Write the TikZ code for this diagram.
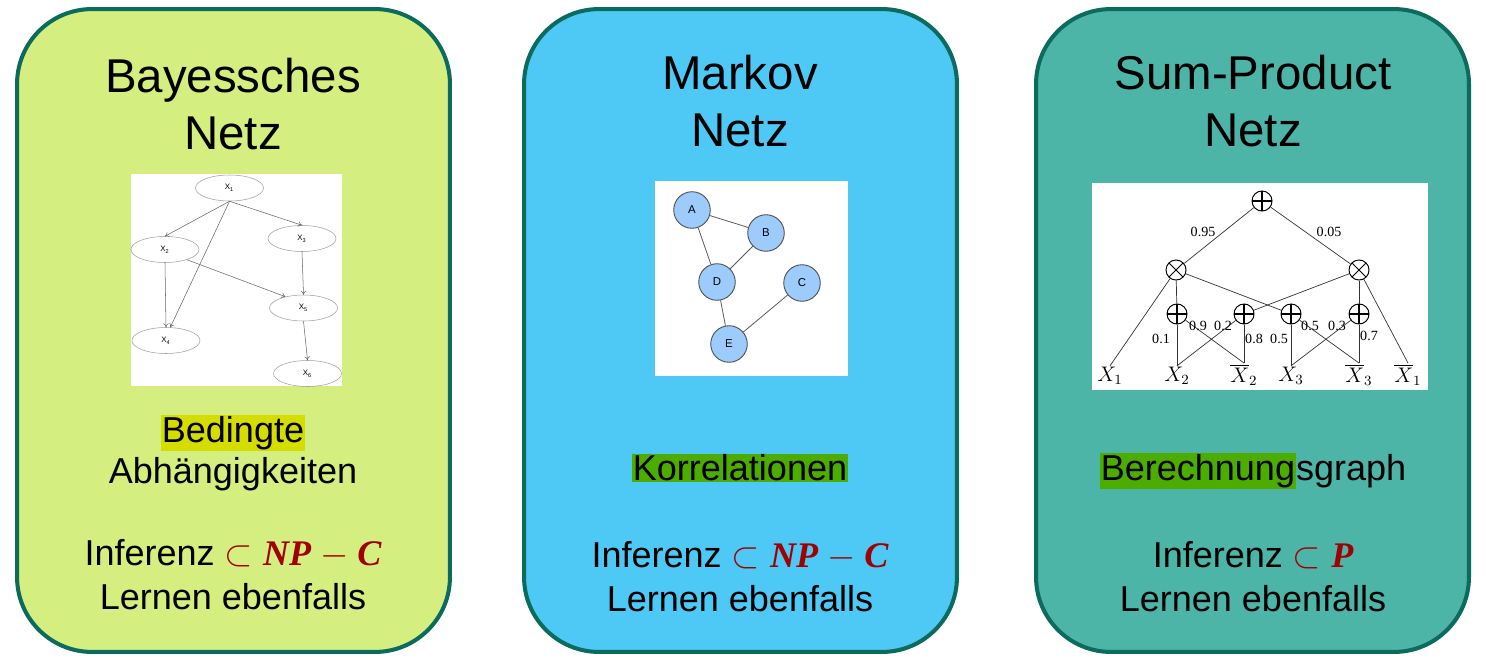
\documentclass[tikz,border=0pt]{standalone}
\usepackage{fontspec}
\setmainfont{Liberation Sans}
\newfontfamily\timesfont{Liberation Serif}
\usetikzlibrary{arrows.meta, positioning, shapes.geometric}

\definecolor{bayesfill}{HTML}{D5EE80}
\definecolor{markovfill}{HTML}{4EC8F4}
\definecolor{spnfill}{HTML}{4DB4A8}
\definecolor{panelborder}{HTML}{0B6B5C}
\definecolor{hlyellow}{HTML}{D4DC00}
\definecolor{hlgreen}{HTML}{4CAD00}
\definecolor{mathred}{HTML}{A00000}
\definecolor{mnodeblue}{HTML}{9CCBFC}

\newcommand{\hlbox}[2]{{\setlength{\fboxsep}{0.6pt}\colorbox{#1}{#2}}}
\newcommand{\cplx}[1]{{\color{mathred}$\subset$\ {\timesfont\bfseries\itshape #1}}}

\begin{document}
\begin{tikzpicture}[x=0.02cm, y=-0.02cm, >=latex, font=\fontsize{20.5}{25}\selectfont]
  \tikzstyle{panel}=[draw=panelborder, line width=2.3pt, rounded corners=1.5cm, minimum width=8.66cm, minimum height=12.86cm]
  \tikzstyle{titletext}=[align=center, font=\fontsize{27}{32}\selectfont]
  \tikzstyle{bodytext}=[align=center, inner sep=0pt]
  \tikzstyle{bnode}=[ellipse, draw=gray!75, line width=0.3pt, minimum width=38.7pt, minimum height=14.8pt, inner sep=0pt, font=\fontsize{4.5}{5}\selectfont]
  \tikzstyle{barc}=[draw=gray!80!black, line width=0.3pt, -{To[length=2.2pt, width=3pt]}]
  \tikzstyle{mnode}=[circle, draw=gray!60!black, line width=0.5pt, fill=mnodeblue, minimum size=20.8pt, inner sep=0pt, font=\fontsize{6.5}{7}\selectfont]
  \tikzstyle{mlink}=[draw=gray!70!black, line width=0.45pt]
  \tikzstyle{sumnode}=[circle, draw, line width=0.55pt, minimum size=11.4pt, inner sep=0pt, fill=white,
    path picture={\draw[line width=1pt] (path picture bounding box.north) -- (path picture bounding box.south)
      (path picture bounding box.west) -- (path picture bounding box.east);}]
  \tikzstyle{prodnode}=[circle, draw, line width=0.55pt, minimum size=11.4pt, inner sep=0pt, fill=white,
    path picture={\draw[line width=0.45pt] (path picture bounding box.north west) -- (path picture bounding box.south east)
      (path picture bounding box.north east) -- (path picture bounding box.south west);}]
  \tikzstyle{slink}=[draw=black!80, line width=0.4pt]
  \tikzstyle{wlabel}=[inner sep=0pt, font=\timesfont\fontsize{8}{9}\selectfont]
  \tikzstyle{leaf}=[inner sep=0.6pt, font=\fontsize{11.5}{12}\selectfont]

  \useasboundingbox (0,0) rectangle (1486,669);
  \fill[white] (0,0) rectangle (1486,669);

  \node[panel, fill=bayesfill] (bayes) at (233.5,330.5) {};
  \node[panel, fill=markovfill] (markov) at (740.5,330.5) {};
  \node[panel, fill=spnfill] (spn) at (1252.5,330.5) {};

  \node[titletext] (bayestitle) at (233,104) {Bayessches\\Netz};
  \node[titletext] (markovtitle) at (740,101) {Markov\\Netz};
  \node[titletext] (spntitle) at (1253,101) {Sum-Product\\Netz};

  % Bayessches Netz
  \fill[white] (131,174) rectangle (342,386);
  \node[bnode] (x1) at (229.5,188) {X\textsubscript{1}};
  \node[bnode] (x2) at (165,249.5) {X\textsubscript{2}};
  \node[bnode] (x3) at (302,238.5) {X\textsubscript{3}};
  \node[bnode] (x5) at (303.5,308) {X\textsubscript{5}};
  \node[bnode] (x4) at (166,340.5) {X\textsubscript{4}};
  \node[bnode] (x6) at (307.5,373.5) {X\textsubscript{6}};
  \draw[barc] (x1.south) -- (x2.north);
  \draw[barc] (x1.south) -- (x3.north);
  \draw[barc] (x1.south) -- (x4.72);
  \draw[barc] (x2.south) -- (x4.north);
  \draw[barc] (x2.-25) -- (x5.148);
  \draw[barc] (x3.south) -- (x5.north);
  \draw[barc] (x5.south) -- (x6.north);

  % Markov Netz
  \fill[white] (655,181) rectangle (848,376);
  \node[mnode] (A) at (692,210) {A};
  \node[mnode] (B) at (766,233) {B};
  \node[mnode] (D) at (717,282) {D};
  \node[mnode] (C) at (802,283) {C};
  \node[mnode] (E) at (729,344) {E};
  \draw[mlink] (A) -- (B);
  \draw[mlink] (A) -- (D);
  \draw[mlink] (B) -- (D);
  \draw[mlink] (D) -- (E);
  \draw[mlink] (E) -- (C);

  % Sum-Product Netz
  \fill[white] (1092,183) rectangle (1428,390);
  \node[sumnode] (root) at (1262,201) {};
  \node[prodnode] (p1) at (1176,270) {};
  \node[prodnode] (p2) at (1359,270) {};
  \node[sumnode] (s1) at (1177,314) {};
  \node[sumnode] (s2) at (1244,314) {};
  \node[sumnode] (s3) at (1291,314) {};
  \node[sumnode] (s4) at (1359,314) {};
  \node[leaf] (l1) at (1110,376) {$X_1$};
  \node[leaf] (l2) at (1177,376) {$X_2$};
  \node[leaf] (l3) at (1244,375) {$\overline{X}_2$};
  \node[leaf] (l4) at (1291,376) {$X_3$};
  \node[leaf] (l5) at (1359,375) {$\overline{X}_3$};
  \node[leaf] (l6) at (1408,375) {$\overline{X}_1$};
  \draw[slink] (root) -- (p1);
  \draw[slink] (root) -- (p2);
  \draw[slink] (p1) -- (s1);
  \draw[slink] (p1) -- (s3);
  \draw[slink] (p1) -- (l1.north);
  \draw[slink] (p2) -- (s4);
  \draw[slink] (p2) -- (s2);
  \draw[slink] (p2) -- (l6.north);
  \draw[slink] (s1) -- (l2.north);
  \draw[slink] (s1) -- (l3.north);
  \draw[slink] (s2) -- (l2.north);
  \draw[slink] (s2) -- (l3.north);
  \draw[slink] (s3) -- (l4.north);
  \draw[slink] (s3) -- (l5.north);
  \draw[slink] (s4) -- (l4.north);
  \draw[slink] (s4) -- (l5.north);
  \node[wlabel] (w1) at (1203,232) {0.95};
  \node[wlabel] (w2) at (1329,232) {0.05};
  \node[wlabel] (w3) at (1161,339) {0.1};
  \node[wlabel] (w4) at (1198,326) {0.9};
  \node[wlabel] (w5) at (1223,326) {0.2};
  \node[wlabel] (w6) at (1254,339) {0.8};
  \node[wlabel] (w7) at (1279,339) {0.5};
  \node[wlabel] (w8) at (1310,326) {0.5};
  \node[wlabel] (w9) at (1337,326) {0.3};
  \node[wlabel] (w10) at (1369,336) {0.7};

  \node[bodytext] (bayesdesc) at (233,453) {\hlbox{hlyellow}{Bedingte}\\[-2pt]Abhängigkeiten};
  \node[bodytext] (bayescost) at (233,575) {Inferenz \cplx{NP $-$ C}\\Lernen ebenfalls};

  \node[bodytext] (markovdesc) at (740,468) {\hlbox{hlgreen}{Korrelationen}};
  \node[bodytext] (markovcost) at (740,577) {Inferenz \cplx{NP $-$ C}\\Lernen ebenfalls};

  \node[bodytext] (spndesc) at (1253,471) {\hlbox{hlgreen}{Berechnung}sgraph};
  \node[bodytext] (spncost) at (1253,577) {Inferenz \cplx{P}\\Lernen ebenfalls};
\end{tikzpicture}
\end{document}
